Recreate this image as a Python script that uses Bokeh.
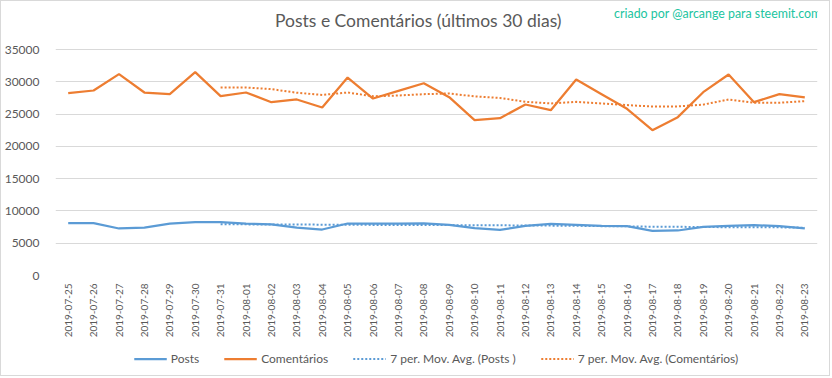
import math
import pandas as pd
from bokeh.plotting import figure
from bokeh.layouts import column
from bokeh.models import (FactorRange, Range1d, FixedTicker, Legend, LegendItem,
                          Label, ColumnDataSource)
from bokeh.embed import file_html
from bokeh.resources import INLINE

dates = ["2019-07-25", "2019-07-26", "2019-07-27", "2019-07-28", "2019-07-29",
         "2019-07-30", "2019-07-31", "2019-08-01", "2019-08-02", "2019-08-03",
         "2019-08-04", "2019-08-05", "2019-08-06", "2019-08-07", "2019-08-08",
         "2019-08-09", "2019-08-10", "2019-08-11", "2019-08-12", "2019-08-13",
         "2019-08-14", "2019-08-15", "2019-08-16", "2019-08-17", "2019-08-18",
         "2019-08-19", "2019-08-20", "2019-08-21", "2019-08-22", "2019-08-23"]

posts = [8100, 8100, 7280, 7430, 8050, 8260, 8260, 8050, 7900, 7430,
         7120, 8050, 8050, 8050, 8080, 7850, 7330, 7070, 7690, 8000,
         7850, 7690, 7640, 6920, 6970, 7540, 7690, 7800, 7640, 7280]

comentarios = [28230, 28650, 31180, 28340, 28080, 31490, 27770, 28340, 26840, 27260,
               26020, 30660, 27410, 28600, 29780, 27620, 24050, 24360, 26480, 25600,
               30350, 28080, 25810, 22500, 24520, 28390, 31130, 26840, 28080, 27570]

y_ticks = [0, 5000, 10000, 15000, 20000, 25000, 30000, 35000]

title_text = "Posts e Comentários  (últimos 30 dias)"
credit_text = "criado por @arcange para steemit.com"
legend_labels = ["Posts", "Comentários", "7 per. Mov. Avg. (Posts )",
                 "7 per. Mov. Avg. (Comentários)"]

BLUE = "#5B9BD5"
ORANGE = "#ED7D31"
TXT = "#595959"
GRID = "#D9D9D9"
FONT = "Lato"

df = pd.DataFrame({"date": dates, "posts": posts, "com": comentarios})
df["ma_posts"] = df["posts"].rolling(7).mean()
df["ma_com"] = df["com"].rolling(7).mean()
ma = df.dropna()

src = ColumnDataSource(df)
src_ma = ColumnDataSource(ma)

# main chart: frame spans canvas y 2..274; 35000 must sit at canvas y 48
frame_h = 272
y_top = 35000 * frame_h / 226.0

p = figure(width=830, height=340, x_range=FactorRange(*dates),
           y_range=Range1d(0, y_top), output_backend="svg", toolbar_location=None,
           min_border_left=49, min_border_right=14, min_border_top=2,
           min_border_bottom=66)
p.styles = {"border-top": "1px solid #D9D9D9", "border-left": "1px solid #D9D9D9",
            "border-right": "1px solid #D9D9D9"}
p.outline_line_color = None
p.background_fill_color = "white"
p.border_fill_color = "white"

p.xgrid.grid_line_color = None
p.ygrid.grid_line_color = GRID
p.ygrid.grid_line_width = 1

p.yaxis.ticker = FixedTicker(ticks=y_ticks)
for ax in (p.xaxis, p.yaxis):
    ax.axis_line_color = None
    ax.major_tick_line_color = None
    ax.minor_tick_line_color = None
    ax.major_label_text_color = TXT
    ax.major_label_text_font = FONT
p.yaxis.major_label_text_font_size = "12px"
p.yaxis.major_label_standoff = 10
p.xaxis.major_label_text_font_size = "10px"
p.xaxis.major_label_orientation = math.pi / 2
p.xaxis.major_label_standoff = 2

p.line("date", "posts", source=src, color=BLUE, line_width=2.25)
p.line("date", "com", source=src, color=ORANGE, line_width=2.25)
p.line("date", "ma_posts", source=src_ma, color=BLUE, line_width=2, line_dash="2 2")
p.line("date", "ma_com", source=src_ma, color=ORANGE, line_width=2, line_dash="2 2")

p.add_layout(Label(x=365, y=255, x_units="screen", y_units="screen",
                   text=title_text, text_font=FONT, text_font_size="17.5px",
                   text_color=TXT, text_align="center", text_baseline="middle"))
p.add_layout(Label(x=766, y=262, x_units="screen", y_units="screen",
                   text=credit_text, text_font=FONT, text_font_size="12.4px",
                   text_color="#21C4A0", text_align="right", text_baseline="middle"))

# legend strip below the chart (its lines sit outside the visible range)
lf = figure(width=830, height=36, x_range=Range1d(0, 1), y_range=Range1d(0, 1),
            output_backend="svg", toolbar_location=None,
            x_axis_type=None, y_axis_type=None,
            min_border_left=0, min_border_right=0, min_border_top=0,
            min_border_bottom=0)
lf.styles = {"border-bottom": "1px solid #D9D9D9", "border-left": "1px solid #D9D9D9",
             "border-right": "1px solid #D9D9D9"}
lf.outline_line_color = None
lf.xgrid.grid_line_color = None
lf.ygrid.grid_line_color = None
lf.background_fill_color = "white"
lf.border_fill_color = "white"

e = ColumnDataSource(data=dict(x=[5, 6], y=[5, 6]))
g1 = lf.line("x", "y", source=e, color=BLUE, line_width=2.25)
g2 = lf.line("x", "y", source=e, color=ORANGE, line_width=2.25)
g3 = lf.line("x", "y", source=e, color=BLUE, line_width=2, line_dash="2 2")
g4 = lf.line("x", "y", source=e, color=ORANGE, line_width=2, line_dash="2 2")

legend = Legend(items=[LegendItem(label=legend_labels[0], renderers=[g1]),
                       LegendItem(label=legend_labels[1], renderers=[g2]),
                       LegendItem(label=legend_labels[2], renderers=[g3]),
                       LegendItem(label=legend_labels[3], renderers=[g4])],
                orientation="horizontal", location="center",
                background_fill_alpha=0, border_line_color=None,
                label_text_font=FONT, label_text_font_size="12px",
                label_text_color=TXT, glyph_width=33, glyph_height=12,
                label_height=14, label_standoff=4, spacing=25, padding=0, margin=0)
lf.add_layout(legend, "center")

layout = column(p, lf, spacing=0)
open("out.html", "w").write(file_html(layout, INLINE))
